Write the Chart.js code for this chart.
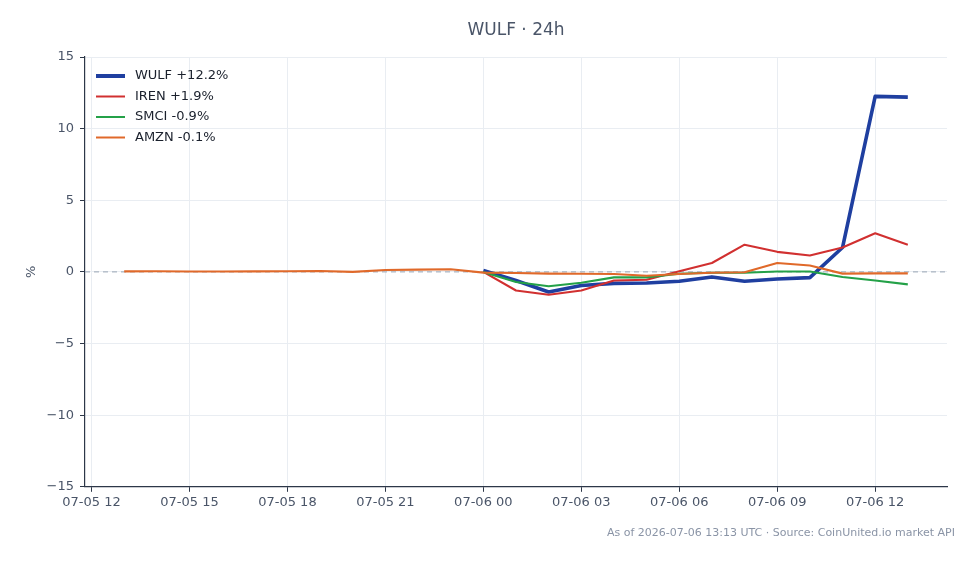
<!DOCTYPE html>
<html>
<head>
<meta charset="utf-8">
<script src="https://cdn.jsdelivr.net/npm/chart.js@4.4.1/dist/chart.umd.min.js"></script>
<style>
    body { margin: 0; background: #ffffff; }
    #wrap { width: 979px; height: 564px; }
</style>
</head>
<body>
<div id="wrap"><canvas id="chart" width="979" height="564"></canvas></div>
<script>
// hours counted from 07-05 12:00 UTC
const tickHours = [0, 3, 6, 9, 12, 15, 18, 21, 24];
const tickLabels = ['07-05 12', '07-05 15', '07-05 18', '07-05 21', '07-06 00', '07-06 03', '07-06 06', '07-06 09', '07-06 12'];

const amznHours = [1, 2, 3, 4, 5, 6, 7, 8, 9, 10, 11, 12, 13, 14, 15, 16, 17, 18, 19, 20, 21, 22, 23, 24, 25];
const amznValues = [0.04, 0.05, 0.03, 0.03, 0.04, 0.05, 0.06, 0.0, 0.13, 0.16, 0.18, -0.05, -0.08, -0.12, -0.13, -0.15, -0.27, -0.15, -0.06, -0.02, 0.62, 0.45, -0.12, -0.1, -0.1];

const sessionHours = [12, 13, 14, 15, 16, 17, 18, 19, 20, 21, 22, 23, 24, 25];
const wulfValues = [0.1, -0.6, -1.4, -0.95, -0.8, -0.78, -0.65, -0.35, -0.65, -0.5, -0.4, 1.7, 12.25, 12.2];
const irenValues = [0.0, -1.3, -1.6, -1.3, -0.6, -0.55, 0.05, 0.62, 1.9, 1.4, 1.15, 1.7, 2.7, 1.9];
const smciValues = [0.0, -0.7, -1.0, -0.76, -0.38, -0.38, -0.13, -0.06, -0.06, 0.03, 0.03, -0.36, -0.6, -0.87];

const seriesNames = ['WULF +12.2%', 'IREN +1.9%', 'SMCI -0.9%', 'AMZN -0.1%'];
const chartTitle = 'WULF \u00b7 24h';

const toPoints = (xs, ys) => xs.map((x, i) => ({ x: x, y: ys[i] }));

const textColor = '#4a5568';
const axisColor = '#2d3748';
const gridColor = '#e9edf2';

// title centred over the plot, dashed zero line, legend inside the plot
const extrasPlugin = {
    id: 'extras',
    beforeDatasetsDraw(chart) {
        const { ctx, chartArea, scales } = chart;
        const y0 = scales.y.getPixelForValue(0);
        ctx.save();
        ctx.strokeStyle = '#9aa5b4';
        ctx.lineWidth = 1;
        ctx.setLineDash([5, 4]);
        ctx.beginPath();
        ctx.moveTo(chartArea.left, y0);
        ctx.lineTo(chartArea.right, y0);
        ctx.stroke();
        ctx.restore();
    },
    afterDatasetsDraw(chart) {
        const { ctx, chartArea } = chart;
        ctx.save();
        ctx.font = '17px "DejaVu Sans"';
        ctx.fillStyle = textColor;
        ctx.textAlign = 'center';
        ctx.textBaseline = 'middle';
        ctx.fillText(chartTitle, (chartArea.left + chartArea.right) / 2, chartArea.top - 26);

        ctx.font = '13px "DejaVu Sans"';
        ctx.textAlign = 'left';
        chart.data.datasets.forEach((ds, i) => {
            const y = chartArea.top + 19 + i * 20.5;
            const x = chartArea.left + 11;
            ctx.strokeStyle = ds.borderColor;
            ctx.lineWidth = i === 0 ? 4 : 2;
            ctx.beginPath();
            ctx.moveTo(x, y);
            ctx.lineTo(x + 29, y);
            ctx.stroke();
            ctx.fillStyle = '#1a202c';
            ctx.fillText(ds.label, x + 39, y);
        });
        ctx.restore();
    }
};

const ctx = document.getElementById('chart').getContext('2d');
new Chart(ctx, {
    type: 'line',
    data: {
        datasets: [
            { label: seriesNames[0], data: toPoints(sessionHours, wulfValues), borderColor: '#1f3fa0', borderWidth: 3.6, order: 4 },
            { label: seriesNames[1], data: toPoints(sessionHours, irenValues), borderColor: '#d13030', borderWidth: 2.1, order: 3 },
            { label: seriesNames[2], data: toPoints(sessionHours, smciValues), borderColor: '#24a148', borderWidth: 2.1, order: 2 },
            { label: seriesNames[3], data: toPoints(amznHours, amznValues), borderColor: '#e0692a', borderWidth: 2.1, order: 1 }
        ]
    },
    options: {
        responsive: false,
        animation: false,
        elements: {
            point: { radius: 0 },
            line: { tension: 0, fill: false, borderJoinStyle: 'round', borderCapStyle: 'butt' }
        },
        layout: { padding: { left: 0, right: 24, top: 57, bottom: 0 } },
        scales: {
            x: {
                type: 'linear',
                min: -0.2,
                max: 26.2,
                afterBuildTicks: (scale) => { scale.ticks = tickHours.map(v => ({ value: v })); },
                afterFit: (scale) => { scale.height = 30; },
                ticks: {
                    color: textColor,
                    font: { family: 'DejaVu Sans', size: 13 },
                    padding: 3,
                    maxRotation: 0,
                    autoSkip: false,
                    callback: (value) => tickLabels[tickHours.indexOf(value)]
                },
                grid: { color: gridColor, tickColor: axisColor, tickLength: 5, lineWidth: 1 },
                border: { color: axisColor, width: 1.2 }
            },
            y: {
                min: -15,
                max: 15,
                afterFit: (scale) => { scale.width = 85; },
                ticks: {
                    stepSize: 5,
                    color: textColor,
                    font: { family: 'DejaVu Sans', size: 13 },
                    padding: 6,
                    callback: (value) => String(value).replace('-', '\u2212')
                },
                grid: { color: gridColor, tickColor: axisColor, tickLength: 5, lineWidth: 1 },
                border: { color: axisColor, width: 1.2 },
                title: {
                    display: true,
                    text: '%',
                    color: textColor,
                    font: { family: 'DejaVu Sans', size: 13 },
                    padding: { top: 24, bottom: 0 }
                }
            },
            // empty spacer on the right so the footer can reach further right than the plot
            spacer: {
                position: 'right',
                afterFit: (scale) => { scale.width = 8; },
                ticks: { display: false },
                grid: { drawOnChartArea: false, drawTicks: false },
                border: { display: false }
            }
        },
        plugins: {
            legend: { display: false },
            tooltip: { enabled: false },
            title: { display: false },
            subtitle: {
                display: true,
                position: 'bottom',
                align: 'end',
                text: 'As of 2026-07-06 13:13 UTC \u00b7 Source: CoinUnited.io market API',
                color: '#8a94a6',
                font: { family: 'DejaVu Sans', size: 11 },
                padding: { top: 10, bottom: 24 }
            }
        }
    },
    plugins: [extrasPlugin]
});
</script>
</body>
</html>
